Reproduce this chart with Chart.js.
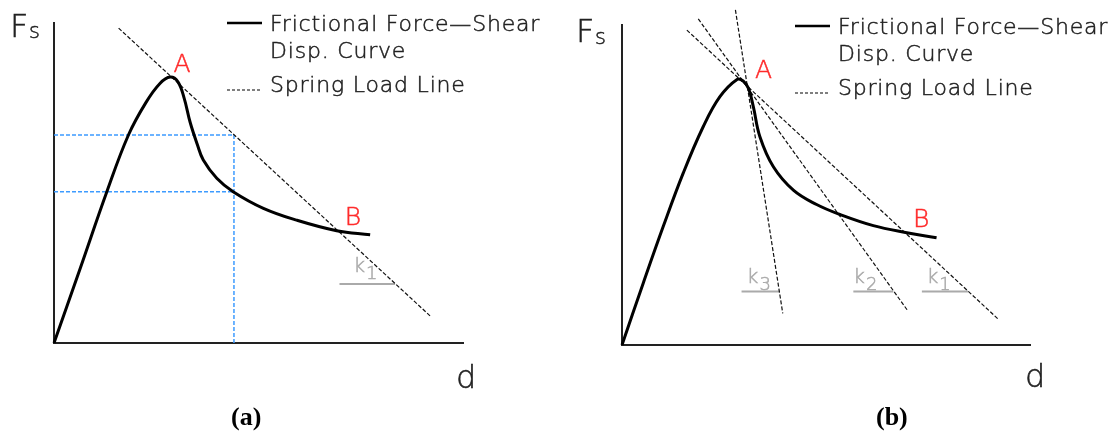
<!DOCTYPE html>
<html>
<head>
<meta charset="utf-8">
<script src="https://cdn.jsdelivr.net/npm/chart.js@4.4.1/dist/chart.umd.min.js"></script>
<style>
  body { margin: 0; background: #fff; width: 1120px; height: 431px; overflow: hidden; }
  .panel { position: absolute; top: 0; width: 560px; height: 431px; }
</style>
</head>
<body>
<div class="panel" style="left:0"><canvas id="chartA" width="560" height="431"></canvas></div>
<div class="panel" style="left:560px"><canvas id="chartB" width="560" height="431"></canvas></div>
<script>
// ---- panel (a): friction curve with one spring load line ----
var dA  = [0, 0.64, 1.29, 1.82, 2.25, 2.59, 2.84, 3.03, 3.18, 3.33, 3.50, 3.65, 3.98, 4.38, 5.12, 5.93, 6.91, 7.73];
var fsA = [0, 2.33, 4.72, 6.50, 7.52, 8.11, 8.31, 8.16, 7.66, 6.89, 6.22, 5.72, 5.15, 4.73, 4.21, 3.84, 3.51, 3.38];
var springA_d  = [1.58, 9.21];
var springA_fs = [9.84, 0.83];
var guideD  = 4.40;          // displacement where the guides drop to the axis
var guideFs = [6.50, 4.73];  // force levels of the two horizontal guides
var slopeA_d  = [6.98, 8.34];
var slopeA_fs = 1.84;

// ---- panel (b): same curve with three spring stiffnesses ----
var dB  = [0, 0.52, 1.01, 1.50, 1.99, 2.40, 2.82, 2.97, 3.10, 3.22, 3.38, 3.71, 4.20, 4.77, 5.34, 6.16, 6.98, 7.71];
var fsB = [0, 1.93, 3.70, 5.37, 6.82, 7.76, 8.30, 8.25, 8.02, 7.44, 6.51, 5.57, 4.84, 4.39, 4.08, 3.73, 3.51, 3.35];
var springK1_d = [1.59, 9.22], springK1_fs = [9.84, 0.81];
var springK2_d = [1.87, 7.01], springK2_fs = [10.19, 1.06];
var springK3_d = [2.78, 3.94], springK3_fs = [10.47, 0.99];
var slopeB_d  = [[7.35, 8.48], [5.67, 6.65], [2.93, 3.86]];   // k1, k2, k3
var slopeB_fs = 1.67;

var legendLines = ["Frictional Force\u2014Shear", "Disp. Curve", "Spring Load Line"];

var cadFont = '"DejaVu Sans", sans-serif';
var red = "#ff2b2b";
var grey = "#aaaaaa";

function pts(xs, ys) {
    return xs.map(function(x, i) { return {x: x, y: Array.isArray(ys) ? ys[i] : ys}; });
}

function curveSet(xs, ys) {
    return {data: pts(xs, ys), borderColor: "#000", borderWidth: 3, tension: 0.4, pointRadius: 0, showLine: true, clip: false};
}

function springSet(xs, ys) {
    return {data: pts(xs, ys), borderColor: "#111", borderWidth: 1.2, borderDash: [4, 2], pointRadius: 0, showLine: true, clip: false};
}

function slopeSet(xs, y) {
    return {data: pts(xs, y), borderColor: grey, borderWidth: 2, pointRadius: 0, showLine: true, clip: false};
}

function guideSet(xs, ys) {
    return {data: pts(xs, ys), borderColor: "#3d9bff", borderWidth: 1.5, borderDash: [4, 2], pointRadius: 0, showLine: true, clip: false};
}

function axisOpts(horizontal) {
    return {
        type: "linear", min: 0, max: 10,
        grid: {display: false, drawTicks: false},
        ticks: {display: false},
        border: {display: true, color: "#222", width: 2},
        afterFit: function(s) { if (horizontal) s.height = 0; else s.width = 0; }
    };
}

// thin CAD-like lettering: light face with a hairline outline
function cadText(ctx, str, x, y, size, color) {
    ctx.font = "200 " + size + "px " + cadFont;
    ctx.fillStyle = color;
    ctx.strokeStyle = color;
    ctx.lineWidth = 0.5;
    ctx.fillText(str, x, y);
    ctx.strokeText(str, x, y);
}

// text, legend and stiffness labels drawn on top of the chart
var labelPlugin = {
    id: "sketchLabels",
    afterDraw: function(chart, args, o) {
        var ctx = chart.ctx, sx = chart.scales.x, sy = chart.scales.y;
        ctx.save();
        ctx.textBaseline = "alphabetic";
        ctx.textAlign = "left";

        // axis names
        cadText(ctx, "F", o.fs[0], o.fs[1], 32, "#222");
        cadText(ctx, "s", o.fs[0] + 19, o.fs[1] + 1.5, 21, "#222");
        cadText(ctx, "d", o.dLabel[0], o.dLabel[1], 32, "#222");

        // legend
        var lx = o.legend[0], ly = o.legend[1];
        ctx.strokeStyle = "#000";
        ctx.lineWidth = 2.5;
        ctx.beginPath(); ctx.moveTo(lx, ly); ctx.lineTo(lx + 35, ly); ctx.stroke();
        ctx.lineWidth = 1.2;
        ctx.setLineDash([3, 2]);
        ctx.beginPath(); ctx.moveTo(lx, ly + 67); ctx.lineTo(lx + 35, ly + 67); ctx.stroke();
        ctx.setLineDash([]);
        ctx.letterSpacing = "0.8px";
        cadText(ctx, legendLines[0], lx + 43, ly + 8, 22, "#222");
        cadText(ctx, legendLines[1], lx + 43, ly + 35, 22, "#222");
        cadText(ctx, legendLines[2], lx + 43, ly + 69, 22, "#222");
        ctx.letterSpacing = "0px";

        // points A and B
        o.points.forEach(function(p) {
            cadText(ctx, p[0], sx.getPixelForValue(p[1]), sy.getPixelForValue(p[2]), 25, red);
        });

        // stiffness labels
        o.stiffness.forEach(function(k) {
            var x = sx.getPixelForValue(k[1]), y = sy.getPixelForValue(k[2]);
            cadText(ctx, "k", x, y, 20, grey);
            var w = ctx.measureText("k").width;
            cadText(ctx, k[0], x + w + 1, y + 7, 18, grey);
        });

        // panel caption
        ctx.fillStyle = "#000";
        ctx.font = "bold 26px 'Liberation Serif', 'Times New Roman', serif";
        ctx.fillText(o.caption, o.captionAt[0], o.captionAt[1]);
        ctx.restore();
    }
};

function baseOptions(pad, labels) {
    return {
        responsive: false,
        animation: false,
        events: [],
        layout: {padding: pad},
        plugins: {legend: {display: false}, tooltip: {enabled: false}, sketchLabels: labels},
        scales: {x: axisOpts(true), y: axisOpts(false)}
    };
}

new Chart(document.getElementById("chartA"), {
    type: "scatter",
    data: {datasets: [
        curveSet(dA, fsA),
        springSet(springA_d, springA_fs),
        slopeSet(slopeA_d, slopeA_fs),
        guideSet([0, guideD], guideFs[0]),
        guideSet([0, guideD], guideFs[1]),
        guideSet([guideD, guideD], [0, guideFs[0]])
    ]},
    options: baseOptions({left: 54, right: 97, top: 23, bottom: 88}, {
        fs: [10, 36.7], dLabel: [456, 388], legend: [227, 23],
        points: [["A", 2.92, 8.48], ["B", 7.11, 3.69]],
        stiffness: [["1", 7.32, 2.23]],
        caption: "(a)", captionAt: [231, 425]
    }),
    plugins: [labelPlugin]
});

new Chart(document.getElementById("chartB"), {
    type: "scatter",
    data: {datasets: [
        curveSet(dB, fsB),
        springSet(springK1_d, springK1_fs),
        springSet(springK2_d, springK2_fs),
        springSet(springK3_d, springK3_fs),
        slopeSet(slopeB_d[0], slopeB_fs),
        slopeSet(slopeB_d[1], slopeB_fs),
        slopeSet(slopeB_d[2], slopeB_fs)
    ]},
    options: baseOptions({left: 62, right: 90, top: 25, bottom: 86}, {
        fs: [16, 42], dLabel: [465, 387], legend: [235, 26],
        points: [["A", 3.26, 8.33], ["B", 7.13, 3.70]],
        stiffness: [["1", 7.47, 1.93], ["2", 5.67, 1.93], ["3", 3.06, 1.93]],
        caption: "(b)", captionAt: [316, 425]
    }),
    plugins: [labelPlugin]
});
</script>
</body>
</html>
